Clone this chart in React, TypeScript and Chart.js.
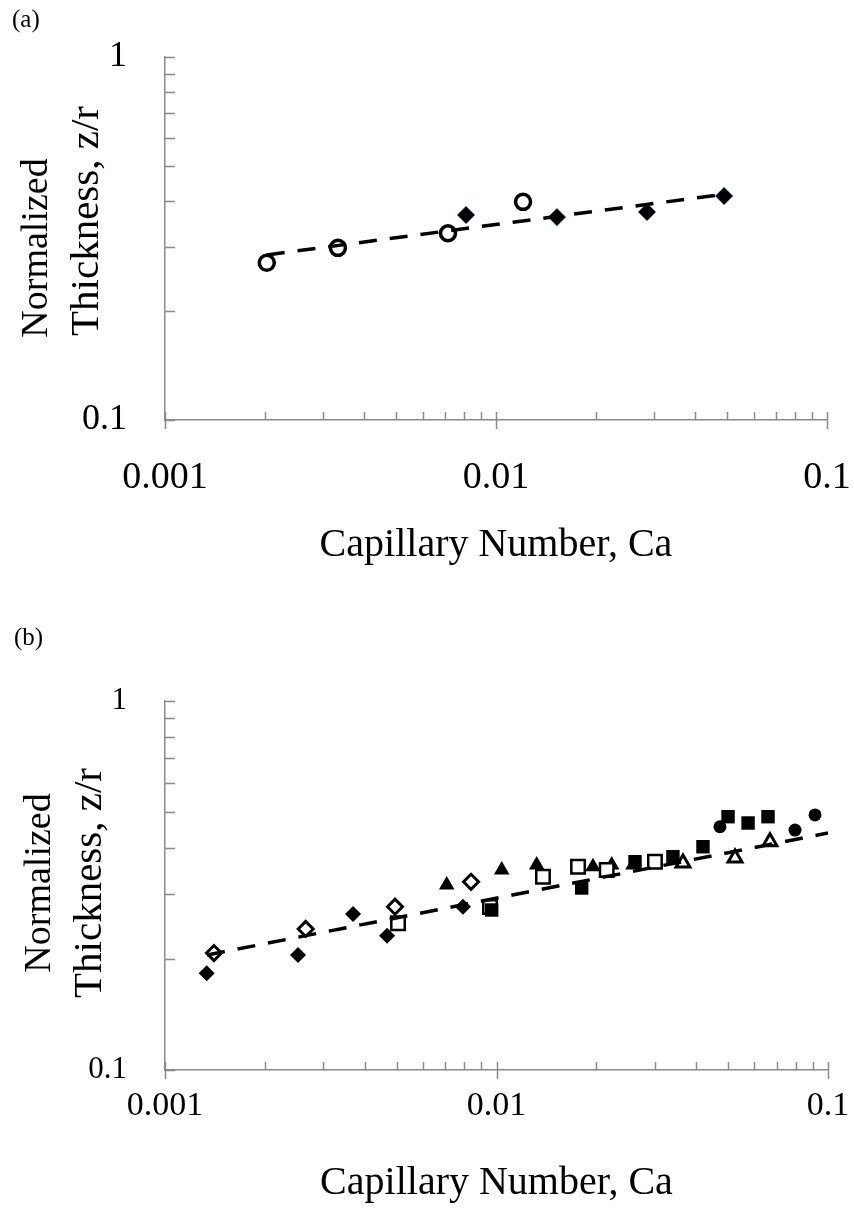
import React, { useEffect, useRef } from 'react';
import { Chart, registerables } from 'chart.js';

Chart.register(...registerables);

// ---------- Panel (a) data ----------
const aCircleCa = [0.00203, 0.00333, 0.00716, 0.01207];
const aCircleZr = [0.271, 0.298, 0.327, 0.399];
const aDiamondCa = [0.00812, 0.01528, 0.0286, 0.0489];
const aDiamondZr = [0.367, 0.362, 0.374, 0.414];
const aFitCa = [0.00203, 0.05];
const aFitZr = [0.285, 0.42];

// ---------- Panel (b) data ----------
const bFilledDiamondCa = [0.001336, 0.002519, 0.003692, 0.004675, 0.007922];
const bFilledDiamondZr = [0.1829, 0.2049, 0.2647, 0.2312, 0.277];
const bOpenDiamondCa = [0.001405, 0.002657, 0.004941, 0.008377];
const bOpenDiamondZr = [0.2075, 0.2411, 0.277, 0.3237];
const bFilledTriangleCa = [0.007077, 0.01037, 0.01322, 0.01954, 0.02226, 0.02581];
const bFilledTriangleZr = [0.3172, 0.3483, 0.3594, 0.3556, 0.3594, 0.3594];
const bOpenSquareCa = [0.005046, 0.009559, 0.01381, 0.01762, 0.0215, 0.03006];
const bOpenSquareZr = [0.2498, 0.2765, 0.3341, 0.3556, 0.3483, 0.3669];
const bFilledSquareCa = [0.009672, 0.01807, 0.02617, 0.03406, 0.04196, 0.04994, 0.05739, 0.06592];
const bFilledSquareZr = [0.2714, 0.3113, 0.3669, 0.3784, 0.4028, 0.4858, 0.4671, 0.4858];
const bOpenTriangleCa = [0.03652, 0.05243, 0.06683];
const bOpenTriangleZr = [0.3639, 0.3754, 0.4157];
const bFilledCircleCa = [0.04722, 0.07952, 0.09137];
const bFilledCircleZr = [0.4562, 0.447, 0.4911];
const bFitCa = [0.00134, 0.1];
const bFitZr = [0.2049, 0.4387];

// ---------- Axes ----------
const xTickValues = [0.001, 0.01, 0.1];
const xTickLabels = ['0.001', '0.01', '0.1'];
const yTickValues = [0.1, 1];
const yTickLabels = ['0.1', '1'];
const xTitle = 'Capillary Number, Ca';
const yTitleLines = ['Normalized', 'Thickness, z/r'];

const SERIF = "'Liberation Serif', 'Times New Roman', serif";
const AXIS = '#8a8a8a';

const pts = (xs: number[], ys: number[]) => xs.map((x, i) => ({ x, y: ys[i] }));

function minorValues(decades: number[]) {
  const out: { v: number; major: boolean }[] = [];
  for (let d = 0; d < decades.length; d++) {
    out.push({ v: decades[d], major: true });
    if (d < decades.length - 1) {
      for (let k = 2; k <= 9; k++) out.push({ v: decades[d] * k, major: false });
    }
  }
  return out;
}

const tickMarksPlugin = {
  id: 'tickMarks',
  afterDraw(chart: any) {
    const { ctx } = chart;
    const xs = chart.scales.x;
    const ys = chart.scales.y;
    ctx.save();
    ctx.strokeStyle = AXIS;
    ctx.lineWidth = 1.5;
    const bottom = chart.chartArea.bottom;
    const left = chart.chartArea.left;
    for (const t of minorValues(xTickValues)) {
      const px = Math.round(xs.getPixelForValue(t.v)) + 0.5;
      ctx.beginPath();
      ctx.moveTo(px, bottom - 8);
      ctx.lineTo(px, t.major ? bottom + 9 : bottom);
      ctx.stroke();
    }
    for (const t of minorValues(yTickValues)) {
      const py = Math.round(ys.getPixelForValue(t.v)) + 0.5;
      ctx.beginPath();
      ctx.moveTo(left, py);
      ctx.lineTo(left + 10, py);
      ctx.stroke();
    }
    ctx.restore();
  },
};

const yTitlePlugin = {
  id: 'yTitle',
  afterDraw(chart: any, _args: any, opts: any) {
    const { ctx } = chart;
    ctx.save();
    ctx.fillStyle = '#000';
    ctx.textAlign = 'center';
    ctx.textBaseline = 'middle';
    yTitleLines.forEach((line, i) => {
      const p = opts.pos[i];
      ctx.save();
      ctx.font = `${p[2]}px ${SERIF}`;
      ctx.translate(p[0], p[1]);
      ctx.rotate(-Math.PI / 2);
      ctx.fillText(line, 0, 0);
      ctx.restore();
    });
    ctx.restore();
  },
};

function makeScales(p: any) {
  return {
    x: {
      type: 'logarithmic',
      min: 0.001,
      max: 0.1,
      afterBuildTicks: (s: any) => {
        s.ticks = xTickValues.map((v) => ({ value: v }));
      },
      afterFit: (s: any) => {
        s.height = p.xHeight;
      },
      grid: { display: false, drawTicks: true, tickLength: p.xTickGap },
      border: { display: true, color: AXIS, width: 1.5 },
      ticks: {
        autoSkip: false,
        maxRotation: 0,
        color: '#000',
        padding: 0,
        font: { family: SERIF, size: p.xTickSize },
        callback: (_v: any, i: number) => xTickLabels[i],
      },
      title: {
        display: true,
        text: xTitle,
        color: '#000',
        font: { family: SERIF, size: 40 },
        padding: { top: 0, bottom: p.xTitlePad },
      },
    },
    y: {
      type: 'logarithmic',
      min: 0.1,
      max: 1,
      afterBuildTicks: (s: any) => {
        s.ticks = yTickValues.map((v) => ({ value: v }));
      },
      afterFit: (s: any) => {
        s.width = 165;
      },
      grid: { display: false, drawTicks: true, tickLength: 38 },
      border: { display: true, color: AXIS, width: 1.5 },
      ticks: {
        color: '#000',
        padding: 0,
        font: { family: SERIF, size: p.yTickSize },
        callback: (_v: any, i: number) => yTickLabels[i],
      },
    },
  };
}

const fitLine = (xs: number[], ys: number[]) => ({
  data: pts(xs, ys),
  showLine: true,
  pointRadius: 0,
  borderColor: '#000',
  borderWidth: 3.5,
  borderDash: [18, 13],
  fill: false,
});

function configA(): any {
  return {
    type: 'scatter',
    data: {
      datasets: [
        fitLine(aFitCa, aFitZr),
        {
          data: pts(aDiamondCa, aDiamondZr),
          pointStyle: 'rectRot',
          pointRadius: 9,
          backgroundColor: '#000',
          borderColor: '#7d9cc4',
          borderWidth: 1,
        },
        {
          data: pts(aCircleCa, aCircleZr),
          pointStyle: 'circle',
          pointRadius: 7.5,
          backgroundColor: '#fff',
          borderColor: '#000',
          borderWidth: 3.5,
        },
      ],
    },
    plugins: [tickMarksPlugin, yTitlePlugin],
    options: {
      responsive: false,
      animation: false,
      events: [],
      layout: { padding: { top: 57, left: 0, right: 27, bottom: 20 } },
      plugins: {
        legend: { display: false },
        tooltip: { enabled: false },
        yTitle: { pos: [[37, 248, 38], [87, 221, 41]] },
      },
      scales: makeScales({ xHeight: 160, xTickGap: 35, xTitlePad: 11, xTickSize: 38, yTickSize: 36 }),
    },
  };
}

function configB(): any {
  const open = (style: string, r: number, bw: number) => ({
    pointStyle: style,
    pointRadius: r,
    backgroundColor: '#fff',
    borderColor: '#000',
    borderWidth: bw,
  });
  const filled = (style: string, r: number) => ({
    pointStyle: style,
    pointRadius: r,
    backgroundColor: '#000',
    borderColor: '#000',
    borderWidth: 0,
  });
  return {
    type: 'scatter',
    data: {
      datasets: [
        fitLine(bFitCa, bFitZr),
        { data: pts(bFilledCircleCa, bFilledCircleZr), ...filled('circle', 6.5) },
        { data: pts(bOpenTriangleCa, bOpenTriangleZr), ...open('triangle', 8, 3) },
        { data: pts(bFilledSquareCa, bFilledSquareZr), ...filled('rect', 9.5) },
        { data: pts(bOpenSquareCa, bOpenSquareZr), ...open('rect', 9.5, 2.5) },
        { data: pts(bFilledTriangleCa, bFilledTriangleZr), ...filled('triangle', 9) },
        { data: pts(bOpenDiamondCa, bOpenDiamondZr), ...open('rectRot', 7.5, 3) },
        { data: pts(bFilledDiamondCa, bFilledDiamondZr), ...filled('rectRot', 8) },
      ],
    },
    plugins: [tickMarksPlugin, yTitlePlugin],
    options: {
      responsive: false,
      animation: false,
      events: [],
      layout: { padding: { top: 101, left: 0, right: 26, bottom: 0 } },
      plugins: {
        legend: { display: false },
        tooltip: { enabled: false },
        yTitle: { pos: [[40, 283, 38], [90, 283, 41]] },
      },
      scales: makeScales({ xHeight: 139, xTickGap: 16, xTitlePad: 2, xTickSize: 34, yTickSize: 31 }),
    },
  };
}

function ChartCanvas({ make, width, height, top }: { make: () => any; width: number; height: number; top: number }) {
  const ref = useRef<HTMLCanvasElement | null>(null);
  useEffect(() => {
    if (!ref.current) return;
    const chart = new Chart(ref.current, make());
    return () => chart.destroy();
  }, []);
  return (
    <canvas
      ref={ref}
      width={width}
      height={height}
      style={{ position: 'absolute', left: 0, top, width, height, display: 'block' }}
    />
  );
}

export default function App() {
  const label: React.CSSProperties = {
    position: 'absolute',
    fontFamily: SERIF,
    fontSize: 25,
    color: '#000',
    lineHeight: '25px',
  };
  return (
    <div style={{ position: 'absolute', left: 0, top: 0, width: 854, height: 1209, background: '#fff', overflow: 'hidden' }}>
      <ChartCanvas make={configA} width={854} height={600} top={0} />
      <ChartCanvas make={configB} width={854} height={609} top={600} />
      <div style={{ ...label, left: 12, top: 6 }}>(a)</div>
      <div style={{ ...label, left: 14, top: 624 }}>(b)</div>
    </div>
  );
}
